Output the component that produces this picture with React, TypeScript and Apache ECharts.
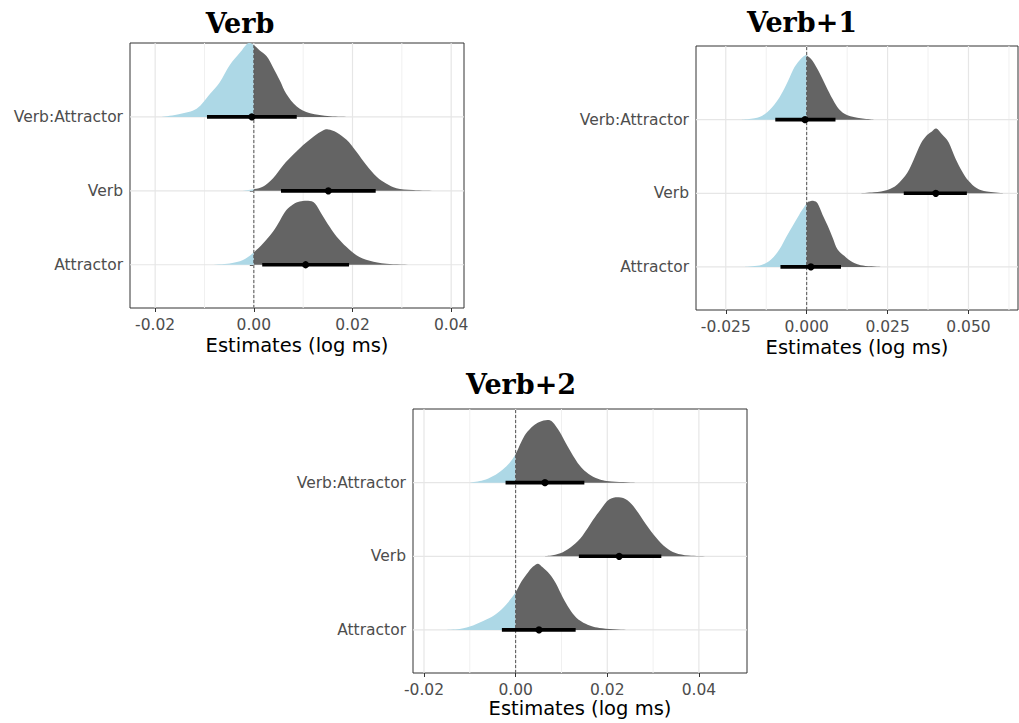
import React, { useEffect, useRef } from "react";
import * as echarts from "echarts";

// Terms on the y axis (bottom to top -> positions 1, 2, 3)
const terms = ["Attractor", "Verb", "Verb:Attractor"];
const panelTitles = ["Verb", "Verb+1", "Verb+2"];
const axisTitle = "Estimates (log ms)";

// x-axis ticks (major with labels) and minor grid lines
const ticksP0 = [-0.02, 0, 0.02, 0.04];
const minorP0 = [-0.01, 0.01, 0.03];
const ticksP1 = [-0.025, 0, 0.025, 0.05];
const minorP1 = [-0.0125, 0.0125, 0.0375, 0.0625];
const ticksP2 = [-0.02, 0, 0.02, 0.04];
const minorP2 = [-0.01, 0.01, 0.03];

// Posterior densities: [estimate, slab height in row units]
// Panel "Verb"
const p0Attractor: [number, number][] = [
  [-0.0089, 0], [-0.0049, 0.018], [-0.0022, 0.063], [0, 0.167], [0.0019, 0.29],
  [0.0039, 0.45], [0.0053, 0.6], [0.0066, 0.74], [0.008, 0.82], [0.0093, 0.856],
  [0.011, 0.865], [0.0124, 0.83], [0.0137, 0.69], [0.0154, 0.51], [0.0168, 0.38],
  [0.0188, 0.24], [0.0208, 0.13], [0.0235, 0.054], [0.0269, 0.014], [0.0323, 0],
];
const p0Verb: [number, number][] = [
  [-0.0028, 0], [0, 0.023], [0.0019, 0.059], [0.0039, 0.17], [0.006, 0.35],
  [0.008, 0.49], [0.01, 0.62], [0.012, 0.73], [0.0141, 0.82], [0.0151, 0.83],
  [0.0168, 0.79], [0.0188, 0.69], [0.0208, 0.53], [0.0228, 0.35], [0.0249, 0.19],
  [0.0269, 0.095], [0.0289, 0.036], [0.0323, 0.01], [0.037, 0],
];
const p0VerbAttractor: [number, number][] = [
  [-0.0187, 0], [-0.015, 0.04], [-0.0116, 0.11], [-0.0089, 0.31], [-0.0069, 0.47],
  [-0.0049, 0.7], [-0.0028, 0.87], [-0.0015, 0.98], [-0.0008, 1.0], [0, 0.97],
  [0.0012, 0.9], [0.0026, 0.82], [0.0039, 0.67], [0.0053, 0.49], [0.0066, 0.31],
  [0.0087, 0.14], [0.0114, 0.05], [0.0154, 0.01], [0.0195, 0],
];
// Panel "Verb+1"
const p1Attractor: [number, number][] = [
  [-0.0192, 0], [-0.014, 0.027], [-0.011, 0.1], [-0.0084, 0.24], [-0.0064, 0.4],
  [-0.0043, 0.56], [-0.0023, 0.71], [0, 0.86], [0.0008, 0.887], [0.0022, 0.896],
  [0.0034, 0.86], [0.0049, 0.71], [0.0065, 0.56], [0.008, 0.4], [0.0095, 0.24],
  [0.0116, 0.15], [0.0136, 0.08], [0.0167, 0.023], [0.0229, 0],
];
const p1Verb: [number, number][] = [
  [0.0157, 0], [0.0208, 0.014], [0.0249, 0.045], [0.028, 0.12], [0.0311, 0.28],
  [0.0331, 0.46], [0.0352, 0.67], [0.0372, 0.79], [0.0387, 0.84], [0.0401, 0.878],
  [0.0418, 0.8], [0.0439, 0.69], [0.0459, 0.48], [0.048, 0.3], [0.05, 0.17],
  [0.0526, 0.068], [0.0557, 0.023], [0.0608, 0],
];
const p1VerbAttractor: [number, number][] = [
  [-0.0202, 0], [-0.0161, 0.018], [-0.013, 0.072], [-0.0099, 0.21], [-0.0079, 0.34],
  [-0.0058, 0.52], [-0.0038, 0.71], [-0.0017, 0.83], [-0.0004, 0.873], [0, 0.87],
  [0.0018, 0.8], [0.0039, 0.64], [0.0059, 0.46], [0.008, 0.28], [0.01, 0.14],
  [0.0126, 0.06], [0.0167, 0.018], [0.0208, 0],
];
// Panel "Verb+2"
const p2Attractor: [number, number][] = [
  [-0.0158, 0], [-0.0122, 0.014], [-0.0093, 0.06], [-0.0064, 0.14], [-0.0042, 0.22],
  [-0.002, 0.35], [0, 0.51], [0.0012, 0.65], [0.0027, 0.78], [0.0038, 0.86],
  [0.0049, 0.9], [0.0059, 0.85], [0.0074, 0.76], [0.0088, 0.63], [0.0103, 0.44],
  [0.0117, 0.29], [0.0132, 0.17], [0.0154, 0.08], [0.0183, 0.027], [0.0241, 0],
];
const p2Verb: [number, number][] = [
  [0.0059, 0], [0.0081, 0.014], [0.0103, 0.054], [0.0125, 0.145], [0.0146, 0.28],
  [0.0168, 0.485], [0.0186, 0.64], [0.0204, 0.77], [0.0225, 0.8], [0.0244, 0.76],
  [0.0262, 0.64], [0.0284, 0.44], [0.0306, 0.26], [0.0328, 0.12], [0.0349, 0.045],
  [0.0378, 0.01], [0.0422, 0],
];
const p2VerbAttractor: [number, number][] = [
  [-0.01, 0], [-0.0071, 0.032], [-0.0049, 0.09], [-0.0028, 0.18], [-0.0013, 0.27],
  [0, 0.39], [0.0012, 0.55], [0.0023, 0.67], [0.0038, 0.77], [0.0052, 0.825],
  [0.007, 0.85], [0.0081, 0.82], [0.0096, 0.69], [0.011, 0.53], [0.0125, 0.37],
  [0.0139, 0.24], [0.0154, 0.145], [0.0175, 0.063], [0.0204, 0.018], [0.0262, 0],
];

// Point estimates and intervals, order = terms
const p0Lower = [0.0017, 0.0055, -0.0095];
const p0Median = [0.0105, 0.0151, -0.0004];
const p0Upper = [0.0193, 0.0247, 0.0087];
const p1Lower = [-0.0081, 0.03, -0.0097];
const p1Median = [0.0013, 0.0399, -0.0005];
const p1Upper = [0.0106, 0.0495, 0.0089];
const p2Lower = [-0.003, 0.0138, -0.0022];
const p2Median = [0.0051, 0.0226, 0.0064];
const p2Upper = [0.0131, 0.0318, 0.015];

const BLUE = "#add8e6";
const GRAY = "#646464";
const FONT = "DejaVu Sans";

const panels = [
  {
    title: panelTitles[0], grid: { left: 130, top: 43, width: 334, height: 265 },
    xMin: -0.0251, xMax: 0.0426, ticks: ticksP0, minor: minorP0, digits: 2,
    dens: [p0Attractor, p0Verb, p0VerbAttractor], lower: p0Lower, median: p0Median, upper: p0Upper,
    titlePos: [240, 23], nameGap: 27,
  },
  {
    title: panelTitles[1], grid: { left: 696, top: 46, width: 322, height: 264 },
    xMin: -0.0342, xMax: 0.0653, ticks: ticksP1, minor: minorP1, digits: 3,
    dens: [p1Attractor, p1Verb, p1VerbAttractor], lower: p1Lower, median: p1Median, upper: p1Upper,
    titlePos: [802, 22], nameGap: 27,
  },
  {
    title: panelTitles[2], grid: { left: 413, top: 409, width: 334, height: 264 },
    xMin: -0.0224, xMax: 0.0505, ticks: ticksP2, minor: minorP2, digits: 2,
    dens: [p2Attractor, p2Verb, p2VerbAttractor], lower: p2Lower, median: p2Median, upper: p2Upper,
    titlePos: [521, 384], nameGap: 25,
  },
];

const Y_MIN = 0.415;
const Y_MAX = 4.0;

function densityRenderer(pts: [number, number][], cat: number) {
  return (params: any, api: any) => {
    const full: [number, number][] = [];
    for (let i = 0; i < pts.length; i++) {
      const [x, h] = pts[i];
      full.push([x, h]);
      if (i < pts.length - 1) {
        const [x2, h2] = pts[i + 1];
        if (x < 0 && x2 > 0) {
          const t = -x / (x2 - x);
          full.push([0, h + (h2 - h) * t]);
        }
      }
    }
    const P = full.map(([x, h]) => api.coord([x, cat + h]));
    const baseY = api.coord([0, cat])[1];
    const n = P.length;
    const segs: string[] = [];
    for (let i = 0; i < n - 1; i++) {
      const p0 = P[Math.max(0, i - 1)];
      const p1 = P[i];
      const p2 = P[i + 1];
      const p3 = P[Math.min(n - 1, i + 2)];
      const c1x = p1[0] + (p2[0] - p0[0]) / 6;
      const c1y = Math.min(baseY, p1[1] + (p2[1] - p0[1]) / 6);
      const c2x = p2[0] - (p3[0] - p1[0]) / 6;
      const c2y = Math.min(baseY, p2[1] - (p3[1] - p1[1]) / 6);
      segs.push(` C ${c1x} ${c1y} ${c2x} ${c2y} ${p2[0]} ${p2[1]}`);
    }
    const path = (from: number, to: number) => {
      let d = `M ${P[from][0]} ${baseY} L ${P[from][0]} ${P[from][1]}`;
      for (let i = from; i < to; i++) d += segs[i];
      d += ` L ${P[to][0]} ${baseY} Z`;
      return d;
    };
    const iz = full.findIndex((p) => p[0] === 0);
    const children: any[] = [];
    if (iz > 0) {
      children.push({ type: "path", shape: { pathData: path(0, iz) }, style: { fill: BLUE, stroke: null } });
    } else if (iz < 0 && full[n - 1][0] < 0) {
      children.push({ type: "path", shape: { pathData: path(0, n - 1) }, style: { fill: BLUE, stroke: null } });
    }
    if (iz >= 0 && iz < n - 1) {
      children.push({ type: "path", shape: { pathData: path(iz, n - 1) }, style: { fill: GRAY, stroke: null } });
    } else if (iz < 0 && full[0][0] > 0) {
      children.push({ type: "path", shape: { pathData: path(0, n - 1) }, style: { fill: GRAY, stroke: null } });
    }
    return { type: "group", children };
  };
}

function buildOption() {
  const grids: any[] = [];
  const xAxes: any[] = [];
  const yAxes: any[] = [];
  const series: any[] = [];
  const graphics: any[] = [];

  panels.forEach((p, pi) => {
    grids.push({
      ...p.grid,
      show: true,
      borderColor: "#333333",
      borderWidth: 1,
      backgroundColor: "transparent",
      containLabel: false,
    });
    xAxes.push({
      type: "value",
      gridIndex: pi,
      min: p.xMin,
      max: p.xMax,
      axisLine: { show: false },
      splitLine: { show: false },
      axisTick: { show: true, length: 4, lineStyle: { color: "#333333", width: 1 }, customValues: p.ticks },
      axisLabel: {
        customValues: p.ticks,
        formatter: (v: number) => v.toFixed(p.digits),
        fontFamily: FONT,
        fontSize: 15.5,
        color: "#4d4d4d",
        margin: 9,
      },
      name: axisTitle,
      nameLocation: "middle",
      nameGap: p.nameGap,
      nameTextStyle: { fontFamily: FONT, fontSize: 19.5, color: "#000000" },
    });
    yAxes.push({
      type: "value",
      gridIndex: pi,
      min: Y_MIN,
      max: Y_MAX,
      axisLine: { show: false },
      splitLine: { show: false },
      axisTick: { show: true, length: 4, lineStyle: { color: "#333333", width: 1 }, customValues: [1, 2, 3] },
      axisLabel: {
        customValues: [1, 2, 3],
        formatter: (v: number) => terms[Math.round(v) - 1] || "",
        fontFamily: FONT,
        fontSize: 15.5,
        color: "#4d4d4d",
        margin: 7,
      },
    });

    // grid lines
    series.push({
      type: "custom",
      xAxisIndex: pi,
      yAxisIndex: pi,
      z: 1,
      silent: true,
      data: [[0, 1]],
      renderItem: (params: any, api: any) => {
        const children: any[] = [];
        p.minor.forEach((v: number) => {
          const a = api.coord([v, Y_MIN]);
          const b = api.coord([v, Y_MAX]);
          children.push({ type: "line", shape: { x1: a[0], y1: a[1], x2: b[0], y2: b[1] }, style: { stroke: "#f0f0f0", lineWidth: 1 } });
        });
        p.ticks.forEach((v: number) => {
          const a = api.coord([v, Y_MIN]);
          const b = api.coord([v, Y_MAX]);
          children.push({ type: "line", shape: { x1: a[0], y1: a[1], x2: b[0], y2: b[1] }, style: { stroke: "#e6e6e6", lineWidth: 1.2 } });
        });
        [1, 2, 3].forEach((c) => {
          const a = api.coord([p.xMin, c]);
          const b = api.coord([p.xMax, c]);
          children.push({ type: "line", shape: { x1: a[0], y1: a[1], x2: b[0], y2: b[1] }, style: { stroke: "#e6e6e6", lineWidth: 1.2 } });
        });
        return { type: "group", children };
      },
    });

    // densities
    p.dens.forEach((d, ci) => {
      series.push({
        type: "custom",
        name: `${p.title} ${terms[ci]}`,
        xAxisIndex: pi,
        yAxisIndex: pi,
        z: 2,
        silent: true,
        data: [[0, ci + 1]],
        renderItem: densityRenderer(d, ci + 1),
      });
    });

    // dashed zero line
    series.push({
      type: "custom",
      xAxisIndex: pi,
      yAxisIndex: pi,
      z: 3,
      silent: true,
      data: [[0, 1]],
      renderItem: (params: any, api: any) => {
        const a = api.coord([0, Y_MIN]);
        const b = api.coord([0, Y_MAX]);
        return { type: "line", shape: { x1: a[0], y1: a[1], x2: b[0], y2: b[1] }, style: { stroke: "#555555", lineWidth: 1, lineDash: [3, 2] } };
      },
    });

    // intervals and point estimates
    series.push({
      type: "custom",
      xAxisIndex: pi,
      yAxisIndex: pi,
      z: 4,
      silent: true,
      encode: { x: [0, 1, 2], y: 3 },
      data: terms.map((t, i) => [p.lower[i], p.upper[i], p.median[i], i + 1]),
      renderItem: (params: any, api: any) => {
        const cat = api.value(3);
        const a = api.coord([api.value(0), cat]);
        const b = api.coord([api.value(1), cat]);
        const m = api.coord([api.value(2), cat]);
        return {
          type: "group",
          children: [
            { type: "line", shape: { x1: a[0], y1: a[1], x2: b[0], y2: b[1] }, style: { stroke: "#000000", lineWidth: 3.6 } },
            { type: "circle", shape: { cx: m[0], cy: m[1], r: 3.6 }, style: { fill: "#000000" } },
          ],
        };
      },
    });

    graphics.push({
      type: "text",
      x: p.titlePos[0],
      y: p.titlePos[1],
      style: {
        text: p.title,
        fontFamily: "DejaVu Serif",
        fontWeight: "bold",
        fontSize: 27,
        fill: "#000000",
        textAlign: "center",
        textVerticalAlign: "middle",
      },
    });
  });

  return {
    animation: false,
    backgroundColor: "#ffffff",
    grid: grids,
    xAxis: xAxes,
    yAxis: yAxes,
    series,
    graphic: graphics,
  };
}

export default function App() {
  const ref = useRef<HTMLDivElement>(null);
  useEffect(() => {
    if (!ref.current) return;
    const chart = echarts.init(ref.current, undefined, { renderer: "svg" });
    chart.setOption(buildOption() as any);
    return () => chart.dispose();
  }, []);
  return (
    <div
      ref={ref}
      style={{ position: "fixed", left: 0, top: 0, width: 1019, height: 723, background: "#ffffff" }}
    />
  );
}
